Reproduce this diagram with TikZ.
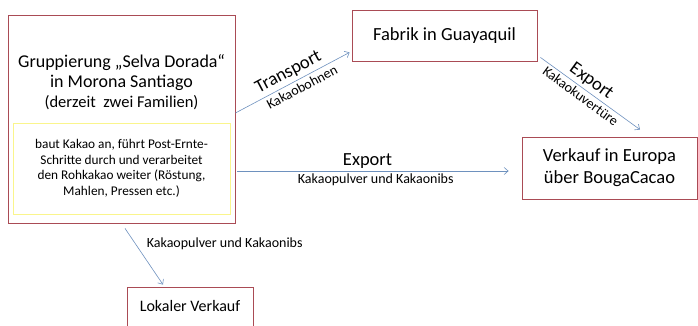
\documentclass[tikz,border=0pt]{standalone}
\usepackage{fontspec}
\setmainfont{Carlito}
\usetikzlibrary{arrows.meta}
\definecolor{boxred}{RGB}{170,75,85}
\definecolor{boxyellow}{RGB}{250,245,140}
\definecolor{flowblue}{RGB}{110,145,190}
\begin{document}
\begin{tikzpicture}[x=1pt,y=-1pt,
	box/.style={draw=boxred,line width=0.8pt,inner sep=0pt,align=center},
	workbox/.style={draw=boxyellow,line width=0.8pt,inner sep=0pt,align=center},
	flow/.style={draw=flowblue,line width=0.6pt,-{Straight Barb[length=4pt,width=7pt]}},
	big/.style={font=\fontsize{18.5}{22}\selectfont},
	small/.style={font=\fontsize{14}{16}\selectfont}]
	\useasboundingbox (0,0) rectangle (698,326);
	% Kaestchen
	\node[box,minimum width=227pt,minimum height=208pt] (grp) at (121.5,119) {};
	\node[align=center,inner sep=0pt,font=\fontsize{18}{20}\selectfont] (grptitle) at (121.5,82)
		{Gruppierung „Selva Dorada“\\
		 in Morona Santiago\\
		 {\fontsize{16.5}{20}\selectfont (derzeit~ zwei Familien)}};
	\node[workbox,minimum width=217pt,minimum height=91pt,
		font=\fontsize{13.3}{15.5}\selectfont] (work) at (121.5,168.5)
		{baut Kakao an, führt Post-Ernte-\\Schritte durch und verarbeitet\\den Rohkakao weiter (Röstung,\\Mahlen, Pressen etc.)};
	\node[box,big,minimum width=185pt,minimum height=51pt] (fab) at (444.5,35.5) {Fabrik in Guayaquil};
	\node[box,big,minimum width=175pt,minimum height=62pt] (eu) at (609.5,168) {Verkauf in Europa\\über BougaCacao};
	\node[box,minimum width=126pt,minimum height=39pt,
		font=\fontsize{16}{19}\selectfont] (lok) at (190,306.5) {Lokaler Verkauf};
	% Pfeile
	\draw[flow] ([yshift=6pt]grp.east) -- ([shift={(-2pt,9pt)}]fab.south west)
		node[pos=0.51,above,sloped,big,inner sep=3pt]{Transport}
		node[pos=0.55,below,sloped,small,inner sep=3pt]{Kakaobohnen};
	\draw[flow] ([shift={(3pt,4pt)}]fab.south east) -- ([shift={(30.5pt,7pt)}]eu.north)
		node[pos=0.45,above,sloped,big,inner sep=2.5pt]{Export}
		node[pos=0.45,below,sloped,small,inner sep=2.5pt]{Kakaokuvertüre};
	\draw[flow] ([shift={(2pt,-52pt)}]grp.east) -- ([shift={(-13pt,-3pt)}]eu.west)
		node[pos=0.48,above,big,inner sep=2pt]{Export}
		node[pos=0.51,below,small,inner sep=2pt]{Kakaopulver und Kakaonibs};
	\draw[flow] ([shift={(3.5pt,-5pt)}]grp.south) -- ([shift={(-27pt,2pt)}]lok.north)
		node[pos=0.27,anchor=west,small,xshift=8pt]{Kakaopulver und Kakaonibs};
\end{tikzpicture}
\end{document}
